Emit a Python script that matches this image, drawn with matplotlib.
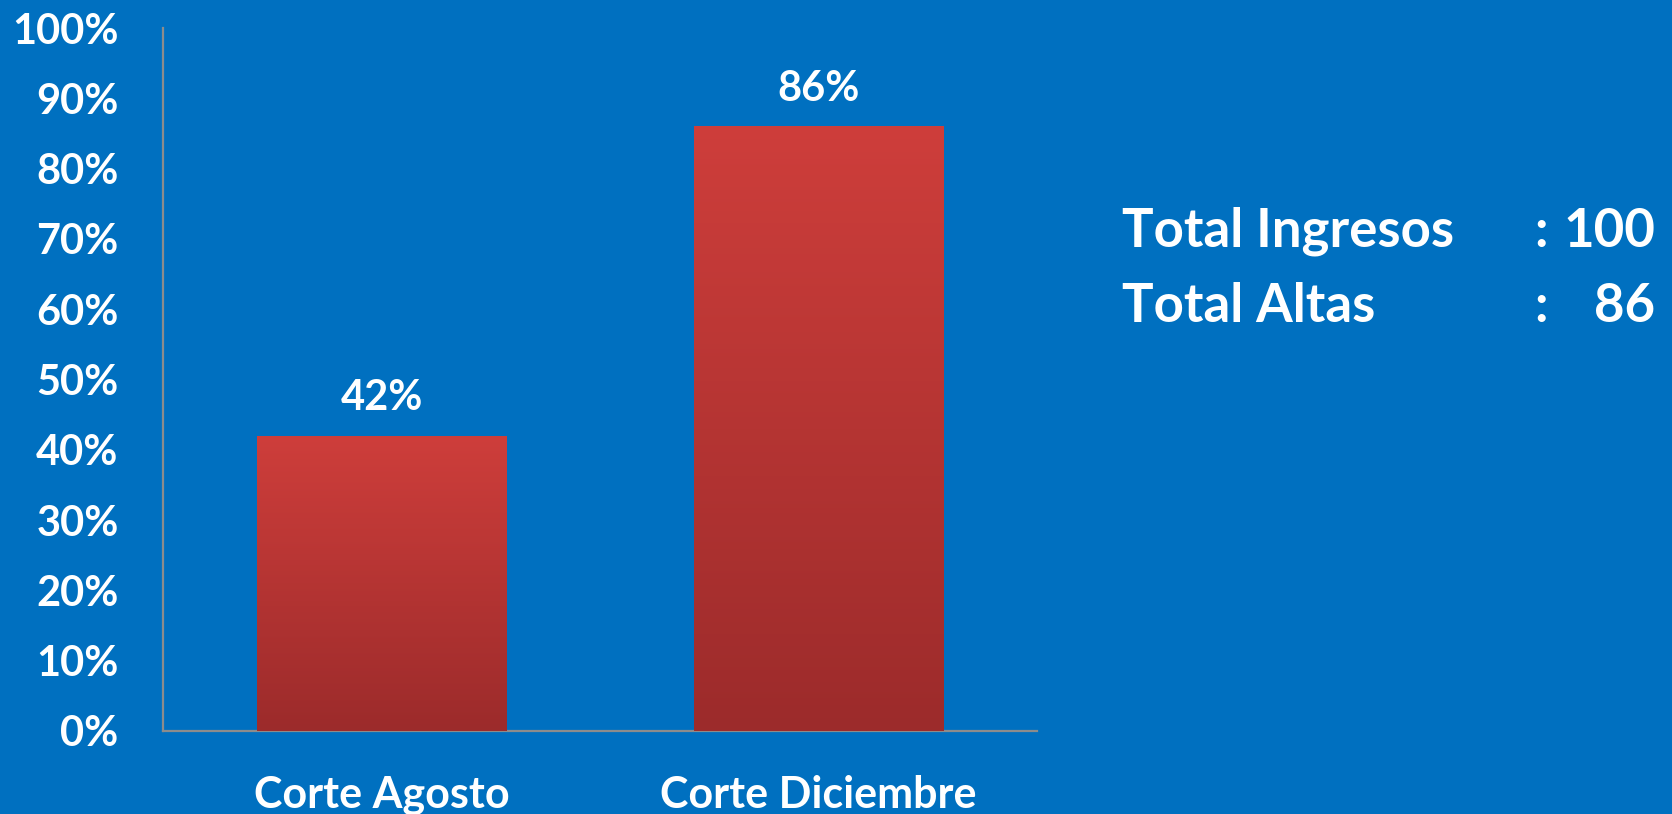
import numpy as np
import matplotlib
matplotlib.use("Agg")
import matplotlib.pyplot as plt
from matplotlib.colors import LinearSegmentedColormap

# data
categories = ["Corte Agosto", "Corte Diciembre"]
values = [42, 86]
summary_labels = ["Total Ingresos", "Total Altas"]
summary_values = ["100", "86"]

bg = "#0070C0"
plt.rcParams['font.family'] = ['Lato', 'DejaVu Sans']
plt.rcParams['font.weight'] = 'bold'

fig = plt.figure(figsize=(16.72, 8.14), dpi=100, facecolor=bg)
ax = fig.add_axes([0.0975, 0.102, 0.5227, 0.8636])
ax.set_facecolor(bg)

x = np.arange(len(categories))
bars = ax.bar(x, values, width=0.57, color="#C03838", zorder=2)

# vertical red gradient inside each bar
cmap = LinearSegmentedColormap.from_list("red", ["#9C2B2B", "#CE3E3B"])
grad = np.linspace(0, 1, 256).reshape(-1, 1)
for b in bars:
    x0, w, h = b.get_x(), b.get_width(), b.get_height()
    im = ax.imshow(grad, cmap=cmap, aspect="auto", origin="lower",
                   extent=[x0, x0 + w, 0, h], zorder=3)
    im.set_clip_path(b)
    ax.text(x0 + w / 2, h + 2.6, f"{h:.0f}%", ha="center", va="bottom",
            color="white", fontsize=30, fontweight="bold")

ax.set_xlim(-0.5, 1.5)
ax.set_ylim(0, 100)
ax.set_yticks(range(0, 101, 10))
ax.set_yticklabels([f"{v}%" for v in range(0, 101, 10)])
ax.set_xticks(x)
ax.set_xticklabels(categories)
ax.tick_params(axis="both", length=0, colors="white", labelsize=30)
ax.tick_params(axis="y", pad=32)
ax.tick_params(axis="x", labelsize=31, pad=32)
for lbl in ax.get_xticklabels() + ax.get_yticklabels():
    lbl.set_fontweight("bold")

for s in ["top", "right"]:
    ax.spines[s].set_visible(False)
for s in ["left", "bottom"]:
    ax.spines[s].set_color("#8C8C8C")
    ax.spines[s].set_linewidth(1.6)

# summary text on the right
for i, (lab, val) in enumerate(zip(summary_labels, summary_values)):
    y = 0.697 - i * 0.093
    fig.text(0.671, y, lab, color="white", fontsize=38, fontweight="bold", va="baseline")
    fig.text(0.9215, y, ":", color="white", fontsize=38, fontweight="bold", va="baseline", ha="center")
    fig.text(0.990, y, val, color="white", fontsize=38, fontweight="bold", va="baseline", ha="right")

fig.savefig("out.png", dpi=100, facecolor=bg)
